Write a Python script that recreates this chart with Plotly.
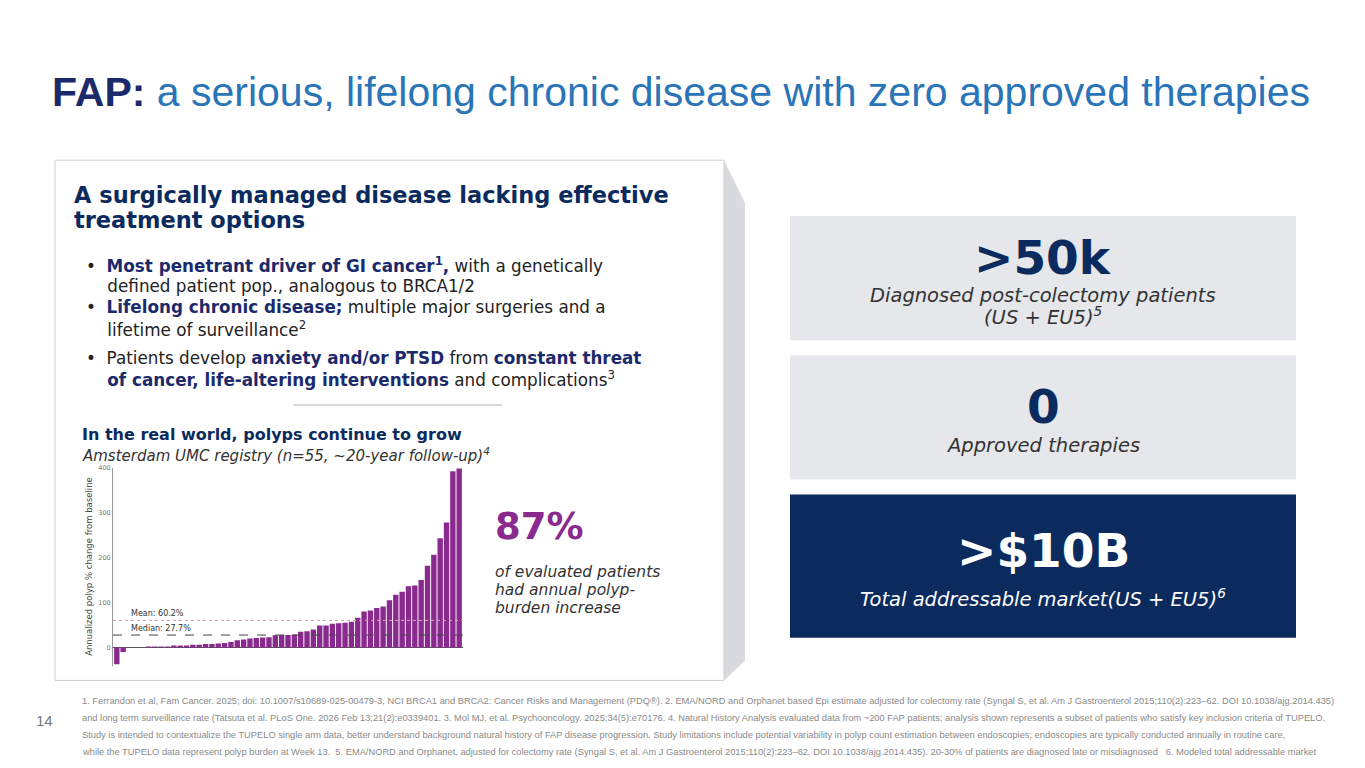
# slide_fap_polyp_chart.py
import pandas as pd
import plotly.graph_objects as go

print("\nBuilding FAP slide with polyp burden chart...")

# --- 1. SETUP ---
W, H = 1365, 768  # slide size in pixels
OFF = 8  # page margin of the html body
FW, FH = W - 2 * OFF, H - 2 * OFF


def px_x(x):
    return (x - OFF) / FW


def px_y(y):
    return 1 - (y - OFF) / FH


NAVY = "#0b2a5e"
PURPLE = "#8a2a8f"

# --- 2. DATA: annualized polyp % change from baseline (n=55) ---
polyp_change = [-37, -10, 0, 0, 0, 0.5, 1, 1.5, 2, 3, 3, 4, 6, 6, 8, 8, 9, 10, 12,
                16, 18, 20, 21, 22, 23, 27, 28, 28, 29, 35, 36, 40, 49, 49, 53, 54,
                55, 57, 66, 80, 82, 88, 91, 105, 117, 124, 136, 138, 150, 182, 206,
                243, 278, 392, 398]
df = pd.DataFrame({"patient": range(1, len(polyp_change) + 1), "change": polyp_change})
mean_val, median_val = 60.2, 27.7

# --- 3. FIGURE ---
fig = go.Figure()
fig.add_trace(go.Bar(x=df["patient"], y=df["change"], marker_color=PURPLE,
                     marker_line_width=0, width=0.85, showlegend=False))

fig.add_hline(y=mean_val, line=dict(color="#d9a0a0", width=1, dash="dot"))
fig.add_hline(y=median_val, line=dict(color="#444444", width=1, dash="dash"))
fig.add_annotation(x=3, y=mean_val, text="Mean: 60.2%", xanchor="left", yanchor="bottom",
                   showarrow=False, font=dict(size=8, color="#333"))
fig.add_annotation(x=3, y=median_val, text="Median: 27.7%", xanchor="left", yanchor="bottom",
                   showarrow=False, font=dict(size=8, color="#333"))

fig.update_layout(
    width=FW, height=FH, margin=dict(l=0, r=0, t=0, b=0),
    paper_bgcolor="white", plot_bgcolor="white",
    font=dict(family="DejaVu Sans", color="#222"),
    bargap=0.1,
    xaxis=dict(domain=[px_x(113), px_x(463)], range=[0.4, 55.6], visible=False),
    yaxis=dict(domain=[px_y(665), px_y(466)], range=[-40, 400], tickvals=[0, 100, 200, 300, 400],
               tickfont=dict(size=6.5, color="#777"), showgrid=False, zeroline=True,
               zerolinecolor="#555", zerolinewidth=1, showline=True, linecolor="#999",
               title=dict(text="Annualized polyp % change from baseline",
                          font=dict(size=8.5, color="#444"), standoff=4)),
)

# Slide panels (left card, shadow, right stat boxes)
shapes = [
    dict(type="path", path=f"M {px_x(724)},{px_y(157)} L {px_x(745)},{px_y(200)} L {px_x(745)},{px_y(660)} L {px_x(724)},{px_y(680)} Z",
         fillcolor="#d8dade", line_width=0),
    dict(type="rect", x0=px_x(55), x1=px_x(724), y0=px_y(680), y1=px_y(157),
         fillcolor="white", line=dict(color="#d0d0d0", width=1)),
    dict(type="line", x0=px_x(293), x1=px_x(502), y0=px_y(403), y1=px_y(403), line=dict(color="#cccccc", width=1.5)),
    dict(type="rect", x0=px_x(790), x1=px_x(1296), y0=px_y(338), y1=px_y(213), fillcolor="#e5e7eb", line_width=0),
    dict(type="rect", x0=px_x(790), x1=px_x(1296), y0=px_y(478), y1=px_y(353), fillcolor="#e5e7eb", line_width=0),
    dict(type="rect", x0=px_x(790), x1=px_x(1296), y0=px_y(637), y1=px_y(493), fillcolor=NAVY, line_width=0),
]
for s in shapes:
    s.update(xref="paper", yref="paper", layer="below")
    fig.add_shape(**s)


def note(x, y, text, size, color="#222", family="DejaVu Sans", xanchor="left"):
    fig.add_annotation(x=px_x(x), y=px_y(y), xref="paper", yref="paper", text=text,
                       showarrow=False, xanchor=xanchor, yanchor="middle", align=xanchor if xanchor != "center" else "center",
                       font=dict(size=size, color=color, family=family))


def b(t):
    return f"<b><span style='color:#1b2a6b'>{t}</span></b>"


# Title
note(50, 88, "<b><span style='color:#1b2a6b'>FAP:</span></b> a serious, lifelong chronic disease with zero approved therapies",
     41, color="#2a74b8", family="Liberation Sans")

# Left card text
note(72, 192, "<b>A surgically managed disease lacking effective</b>", 22.5, color=NAVY)
note(72, 217, "<b>treatment options</b>", 22.5, color=NAVY)
bullet_lines = [
    (262, "•  " + b("Most penetrant driver of GI cancer<sup>1</sup>,") + " with a genetically"),
    (283, "    defined patient pop., analogous to BRCA1/2"),
    (305, "•  " + b("Lifelong chronic disease;") + " multiple major surgeries and a"),
    (327, "    lifetime of surveillance<sup>2</sup>"),
    (356, "•  Patients develop " + b("anxiety and/or PTSD") + " from " + b("constant threat")),
    (377, "    " + b("of cancer, life-altering interventions") + " and complications<sup>3</sup>"),
]
for y, line in bullet_lines:
    note(84, y, line, 16.8)
note(80, 433, "<b>In the real world, polyps continue to grow</b>", 16, color=NAVY)
note(80, 453, "<i>Amsterdam UMC registry (n=55, ~20-year follow-up)<sup>4</sup></i>", 15, color="#333")
note(493, 525, "<b>87%</b>", 37, color=PURPLE)
for y, line in [(571, "of evaluated patients"), (589, "had annual polyp-"), (607, "burden increase")]:
    note(493, y, f"<i>{line}</i>", 15.5, color="#333")

# Right stat boxes
note(1043, 255, "<b>&gt;50k</b>", 47, color=NAVY, xanchor="center")
note(1043, 293, "<i>Diagnosed post-colectomy patients</i>", 19.5, color="#333", xanchor="center")
note(1043, 314, "<i>(US + EU5)<sup>5</sup></i>", 19.5, color="#333", xanchor="center")
note(1043, 405, "<b>0</b>", 47, color=NAVY, xanchor="center")
note(1043, 444, "<i>Approved therapies</i>", 19.5, color="#333", xanchor="center")
note(1043, 549, "<b>&gt;$10B</b>", 47, color="white", xanchor="center")
note(1043, 597, "<i>Total addressable market(US + EU5)<sup>6</sup></i>", 19.5, color="white", xanchor="center")

# Footer
note(34, 720, "14", 15, color="#777", family="Liberation Sans")
footnotes = [
    "1. Ferrandon et al, Fam Cancer. 2025; doi: 10.1007/s10689-025-00479-3, NCI BRCA1 and BRCA2: Cancer Risks and Management (PDQ®). 2. EMA/NORD and Orphanet based Epi estimate adjusted for colectomy rate (Syngal S, et al. Am J Gastroenterol 2015;110(2):223–62. DOI 10.1038/ajg.2014.435)",
    "and long term surveillance rate (Tatsuta et al. PLoS One. 2026 Feb 13;21(2):e0339401. 3. Mol MJ, et al. Psychooncology. 2025;34(5):e70176. 4. Natural History Analysis evaluated data from ~200 FAP patients; analysis shown represents a subset of patients who satisfy key inclusion criteria of TUPELO.",
    "Study is intended to contextualize the TUPELO single arm data, better understand background natural history of FAP disease progression. Study limitations include potential variability in polyp count estimation between endoscopies; endoscopies are typically conducted annually in routine care,",
    "while the TUPELO data represent polyp burden at Week 13.  5. EMA/NORD and Orphanet, adjusted for colectomy rate (Syngal S, et al. Am J Gastroenterol 2015;110(2):223–62. DOI 10.1038/ajg.2014.435). 20-30% of patients are diagnosed late or misdiagnosed   6. Modeled total addressable market",
    "(not realized or forecasted sales): diagnosed prevalence (~50k) × rare-disease oral net price (benchmark GOMEKLI ~$22–30k/mo = $260–360k/yr; ATTR/PAH orals); sensitive to price treated fraction",
]
for i, line in enumerate(footnotes):
    note(80, 701 + 17 * i, line, 9.3, color="#8a8a8a", family="Liberation Sans")

fig.write_html("out.html")
print("Slide written to out.html.")
